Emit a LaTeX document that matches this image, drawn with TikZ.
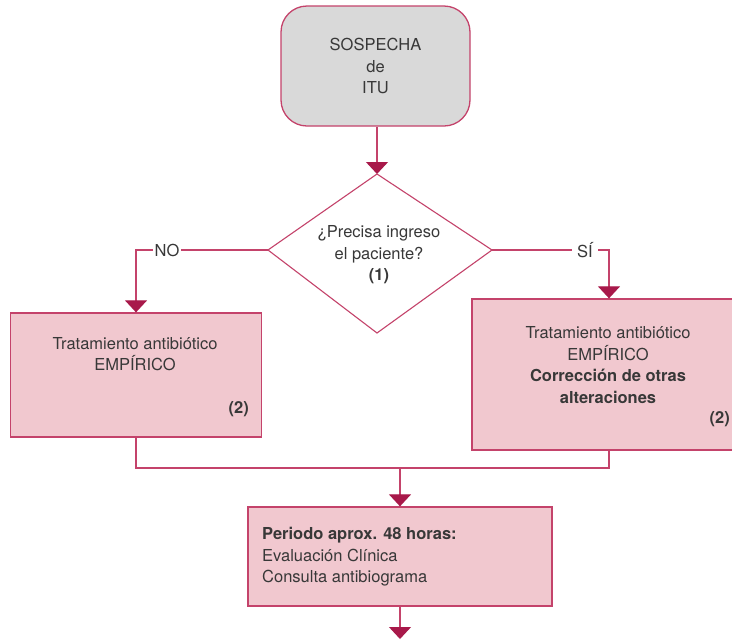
\documentclass[tikz,border=0pt]{standalone}
\usepackage{fontspec}
\setmainfont{TeX Gyre Heros}
\usetikzlibrary{arrows.meta}
\definecolor{edge}{HTML}{C4436B}
\definecolor{tipc}{HTML}{A8194A}
\definecolor{pinkfill}{HTML}{F1C8CF}
\definecolor{greyfill}{HTML}{D9D9D9}
\definecolor{ink}{HTML}{383838}
\begin{document}
\begin{tikzpicture}[x=1pt,y=-1pt,
  box/.style={draw=edge,line width=1.3pt,fill=pinkfill,inner sep=0pt},
  link/.style={draw=edge,line width=1.1pt,-{Triangle[length=12pt,width=22pt,color=tipc]}},
  plain/.style={draw=edge,line width=1.1pt},
  txt/.style={font=\fontsize{16.5}{21.5}\selectfont,text=ink,inner sep=0pt,align=center},
  tag/.style={font=\fontsize{16.5}{21.5}\selectfont,text=ink,fill=white,inner sep=2pt},
]
\clip (0,0) rectangle (732,641);
\fill[white] (0,0) rectangle (732,641);

% start
\node[box,fill=greyfill,rounded corners=26pt,minimum width=189pt,minimum height=120pt,
      txt] (start) at (375.5,66) {SOSPECHA\\de\\ITU};

% decision
\coordinate (dtop) at (377,174);
\coordinate (dright) at (492,250);
\coordinate (dbot) at (377,333);
\coordinate (dleft) at (268,250);
\draw[plain] (dtop) -- (dright) -- (dbot) -- (dleft) -- cycle;
\node[txt] (question) at (379,255) {¿Precisa ingreso\\el paciente?\\\textbf{(1)}};

% treatment boxes
\node[box,minimum width=251pt,minimum height=124pt] (left) at (136,375) {};
\node[txt] (lefttxt) at (135,354) {Tratamiento antibiótico\\EMPÍRICO};
\node[txt,anchor=east] (leftref) at (249,409) {\textbf{(2)}};

\node[box,minimum width=274pt,minimum height=151pt] (right) at (609,374.5) {};
\node[txt] (righttxt) at (608,365) {Tratamiento antibiótico\\EMPÍRICO\\\textbf{Corrección de otras}\\\textbf{alteraciones}};
\node[txt,anchor=east] (rightref) at (730,419) {\textbf{(2)}};

% evaluation box
\node[box,minimum width=304pt,minimum height=99pt] (period) at (400,556.5) {};
\node[txt,align=left,anchor=west] (periodtxt) at (262,557)
  {\textbf{Periodo aprox. 48 horas:}\\Evaluación Clínica\\Consulta antibiograma};

% connectors
\draw[link] (start.south -| dtop) -- (dtop);
\draw[link] (dleft) -| (left.north);
\draw[link] (dright) -| (right.north);
\node[tag] (no) at (167,250) {NO};
\node[tag,inner xsep=5pt] (si) at (585,250) {SÍ};

\coordinate (join) at (400,468);
\draw[plain] (left.south) |- (join);
\draw[plain] (right.south) |- (join);
\draw[link] (join) -- (period.north);

\coordinate (tail) at (400,639);
\draw[link] (period.south) -- (tail);
\end{tikzpicture}
\end{document}
